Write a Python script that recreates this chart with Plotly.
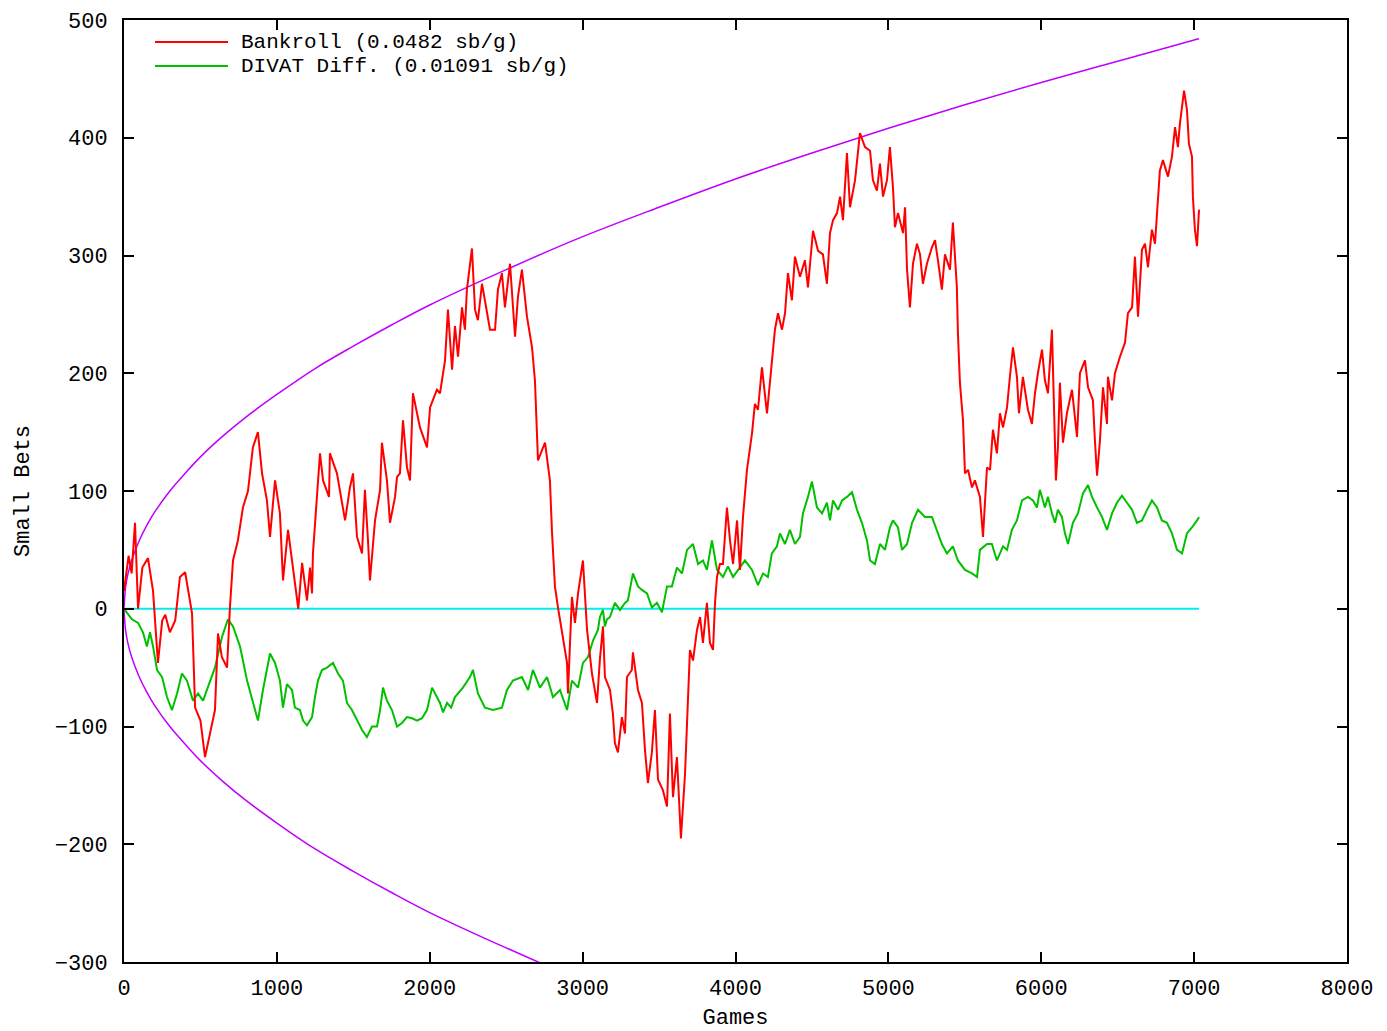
import plotly.graph_objects as go

# ---------------- data ----------------
bankroll_games = [0, 30, 50, 72, 92, 120, 157, 190, 222, 250, 270, 300, 335, 366, 400, 445, 465, 500, 530, 575,
    595, 615, 640, 674, 693, 713, 745, 778, 811, 843, 876, 903, 935, 955, 988, 1020, 1040, 1073, 1105, 1140,
    1165, 1197, 1217, 1230, 1236, 1262, 1282, 1302, 1341, 1347, 1393, 1446, 1478, 1498, 1524, 1557, 1576, 1596, 1609, 1642,
    1675, 1687, 1720, 1740, 1773, 1786, 1805, 1825, 1851, 1871, 1890, 1936, 1982, 2002, 2047, 2067, 2100, 2119, 2146, 2165,
    2185, 2211, 2230, 2243, 2276, 2296, 2315, 2342, 2374, 2394, 2427, 2446, 2472, 2492, 2525, 2558, 2577, 2603, 2636, 2669,
    2688, 2701, 2708, 2754, 2773, 2786, 2800, 2819, 2839, 2872, 2898, 2904, 2930, 2950, 2970, 3002, 3029, 3061, 3094, 3113,
    3133, 3146, 3179, 3198, 3211, 3231, 3257, 3277, 3290, 3322, 3329, 3362, 3388, 3408, 3427, 3453, 3473, 3493, 3525, 3552,
    3571, 3591, 3617, 3643, 3670, 3683, 3702, 3722, 3748, 3768, 3787, 3813, 3833, 3853, 3866, 3879, 3898, 3918, 3944, 3964,
    3984, 4010, 4029, 4049, 4075, 4108, 4127, 4147, 4173, 4206, 4238, 4258, 4278, 4304, 4324, 4343, 4369, 4389, 4422, 4454,
    4474, 4500, 4507, 4540, 4572, 4598, 4618, 4638, 4664, 4684, 4703, 4729, 4749, 4782, 4801, 4814, 4847, 4880, 4899, 4925,
    4945, 4965, 4991, 5010, 5030, 5043, 5063, 5096, 5109, 5122, 5141, 5161, 5187, 5207, 5226, 5252, 5285, 5305, 5324, 5350,
    5370, 5403, 5422, 5448, 5455, 5468, 5488, 5501, 5521, 5547, 5566, 5599, 5619, 5645, 5665, 5684, 5710, 5730, 5750, 5776,
    5795, 5815, 5841, 5854, 5880, 5913, 5939, 5959, 5978, 6005, 6024, 6044, 6070, 6083, 6096, 6109, 6122, 6142, 6168, 6201,
    6234, 6253, 6286, 6306, 6338, 6351, 6365, 6384, 6404, 6430, 6436, 6463, 6482, 6515, 6548, 6567, 6594, 6613, 6633, 6659,
    6679, 6698, 6724, 6744, 6763, 6776, 6796, 6829, 6855, 6875, 6894, 6907, 6934, 6953, 6966, 6986, 6992, 7005, 7019, 7032]
bankroll = [15, 45, 30, 73, 0, 35, 43, 15, -46, -10, -5, -20, -10, 27, 31, -4, -84, -95, -126, -100,
    -86, -21, -41, -50, 1, 41, 58, 86, 100, 137, 150, 115, 92, 61, 109, 81, 24, 67, 36, 0,
    39, 7, 35, 13, 47, 98, 132, 109, 95, 132, 115, 75, 103, 115, 61, 47, 101, 58, 24, 75,
    101, 141, 109, 73, 95, 112, 115, 160, 120, 109, 183, 154, 137, 171, 186, 183, 211, 254, 203, 240,
    214, 256, 237, 271, 306, 254, 245, 276, 254, 237, 237, 271, 285, 256, 293, 231, 265, 288, 248, 222,
    194, 154, 126, 141, 124, 109, 64, 19, 1, -24, -46, -72, 10, -12, 13, 41, -18, -55, -80, -43,
    -15, -58, -69, -89, -114, -122, -92, -106, -58, -52, -37, -69, -80, -120, -148, -122, -86, -145, -154, -168,
    -89, -160, -126, -195, -140, -97, -35, -44, -18, -7, -29, 5, -29, -35, 5, 27, 38, 38, 86, 58,
    38, 75, 33, 78, 118, 149, 174, 169, 205, 166, 214, 237, 251, 237, 251, 285, 262, 299, 282, 296,
    273, 307, 321, 304, 301, 276, 319, 330, 336, 350, 330, 387, 341, 364, 387, 404, 392, 389, 364, 355,
    378, 350, 364, 392, 358, 324, 336, 319, 341, 288, 256, 293, 310, 301, 276, 293, 307, 313, 296, 271,
    301, 288, 328, 273, 234, 192, 160, 115, 118, 103, 109, 95, 61, 120, 118, 152, 132, 166, 154, 171,
    197, 222, 197, 166, 197, 169, 157, 183, 200, 220, 194, 183, 237, 174, 109, 137, 192, 141, 166, 186,
    146, 200, 211, 188, 177, 143, 113, 143, 188, 157, 197, 177, 200, 214, 226, 251, 256, 299, 248, 305,
    310, 290, 322, 310, 344, 372, 381, 367, 384, 409, 392, 412, 440, 424, 395, 384, 350, 322, 308, 339]

divat_games = [0, 52, 92, 124, 150, 170, 190, 216, 249, 281, 314, 347, 379, 412, 451, 484, 517, 563, 595, 641,
    680, 713, 759, 805, 843, 876, 909, 955, 988, 1020, 1040, 1066, 1099, 1118, 1151, 1171, 1197, 1230, 1249, 1269,
    1295, 1328, 1367, 1400, 1432, 1459, 1491, 1524, 1557, 1589, 1622, 1655, 1675, 1694, 1720, 1753, 1786, 1818, 1851, 1884,
    1917, 1949, 1982, 2015, 2047, 2067, 2087, 2113, 2140, 2165, 2217, 2263, 2283, 2315, 2361, 2414, 2472, 2505, 2544, 2603,
    2643, 2675, 2721, 2767, 2806, 2852, 2898, 2930, 2970, 3002, 3035, 3068, 3100, 3113, 3133, 3146, 3159, 3179, 3211, 3244,
    3277, 3296, 3329, 3362, 3388, 3421, 3453, 3486, 3519, 3552, 3584, 3617, 3650, 3683, 3722, 3755, 3787, 3813, 3846, 3879,
    3918, 3951, 3984, 4016, 4062, 4108, 4147, 4180, 4212, 4238, 4271, 4291, 4324, 4356, 4389, 4422, 4441, 4474, 4500, 4533,
    4566, 4598, 4618, 4638, 4671, 4697, 4729, 4762, 4795, 4827, 4860, 4880, 4912, 4945, 4978, 5010, 5030, 5063, 5089, 5122,
    5155, 5194, 5239, 5285, 5318, 5350, 5383, 5422, 5455, 5501, 5547, 5580, 5599, 5645, 5677, 5710, 5750, 5776, 5808, 5841,
    5874, 5913, 5946, 5972, 5991, 6024, 6044, 6070, 6090, 6109, 6135, 6155, 6175, 6207, 6240, 6273, 6306, 6332, 6365, 6397,
    6430, 6463, 6495, 6528, 6561, 6594, 6626, 6659, 6692, 6724, 6757, 6789, 6822, 6855, 6888, 6921, 6953, 6986, 7019, 7032]
divat = [0, -9, -12, -20, -32, -20, -32, -52, -58, -75, -86, -72, -55, -61, -78, -72, -78, -61, -50, -24,
    -9, -15, -32, -61, -78, -95, -69, -38, -46, -61, -84, -64, -69, -84, -86, -95, -99, -92, -75, -61,
    -52, -50, -46, -55, -61, -80, -86, -95, -103, -109, -100, -100, -86, -67, -78, -86, -100, -97, -92, -93,
    -95, -93, -86, -67, -75, -80, -88, -80, -84, -75, -67, -58, -52, -72, -84, -86, -84, -69, -61, -58,
    -69, -52, -67, -58, -75, -69, -86, -61, -67, -46, -41, -27, -18, -7, -1, -15, -9, -7, 5, -1,
    5, 7, 30, 19, 16, 13, 1, 5, -3, 19, 19, 35, 30, 50, 55, 38, 41, 33, 58, 33,
    27, 36, 27, 33, 41, 33, 20, 30, 27, 47, 53, 64, 55, 67, 55, 61, 81, 95, 108, 86,
    81, 90, 75, 92, 84, 92, 95, 99, 84, 73, 58, 41, 38, 55, 50, 69, 75, 69, 50, 55,
    73, 84, 78, 78, 67, 55, 47, 53, 41, 33, 30, 27, 50, 55, 55, 41, 53, 50, 67, 75,
    92, 95, 92, 86, 101, 86, 95, 81, 73, 84, 78, 64, 55, 73, 81, 98, 105, 95, 86, 78,
    67, 81, 90, 96, 90, 84, 73, 75, 84, 92, 86, 75, 73, 64, 50, 47, 64, 69, 75, 78]

bound_games = [0, 10, 25, 50, 100, 150, 200, 300, 400, 500, 650, 800, 1000, 1250, 1500, 1750, 2000, 2500, 3000,
    3500, 4000, 4500, 5000, 5500, 6000, 6500, 7000, 7032]
bound_upper = [0, 18, 29, 41, 58, 71, 82, 100, 115, 129, 147, 163, 182, 204, 223, 241, 258, 288, 316,
    341, 365, 387, 408, 428, 447, 465, 483, 484]
bound_lower = [-v for v in bound_upper]

zero_games = [0, 7032]
zero_line = [0, 0]

x_ticks = [0, 1000, 2000, 3000, 4000, 5000, 6000, 7000, 8000]
y_ticks = [-300, -200, -100, 0, 100, 200, 300, 400, 500]

legend_labels = ["Bankroll (0.0482 sb/g)", "DIVAT Diff. (0.01091 sb/g)"]

# ---------------- styles ----------------
RED = "#ff0000"
GREEN = "#00c000"
PURPLE = "#c000ff"
CYAN = "#00eeee"
FONT = "Liberation Mono"
FSIZE = 22
LEG_FSIZE = 21

fig = go.Figure()
fig.add_trace(go.Scatter(x=bound_games, y=bound_upper, mode="lines",
                         line=dict(color=PURPLE, width=1.5, shape="spline"), showlegend=False))
fig.add_trace(go.Scatter(x=bound_games, y=bound_lower, mode="lines",
                         line=dict(color=PURPLE, width=1.5, shape="spline"), showlegend=False))
fig.add_trace(go.Scatter(x=zero_games, y=zero_line, mode="lines",
                         line=dict(color=CYAN, width=2), showlegend=False))
fig.add_trace(go.Scatter(x=divat_games, y=divat, mode="lines", name=legend_labels[1],
                         line=dict(color=GREEN, width=2), showlegend=False))
fig.add_trace(go.Scatter(x=bankroll_games, y=bankroll, mode="lines", name=legend_labels[0],
                         line=dict(color=RED, width=2), showlegend=False))

# manual gnuplot-style legend (top-left, inside the plot)
L, R, T, B = 124, 1347, 20, 962
def px_to_paper(px, py):
    return (px - L) / (R - L), 1 - (py - T) / (B - T)

for i, (label, col) in enumerate(zip(legend_labels, [RED, GREEN])):
    y_px = 42 + 24 * i
    x0, yy = px_to_paper(155, y_px)
    x1, _ = px_to_paper(228, y_px)
    xt, _ = px_to_paper(241, y_px)
    fig.add_shape(type="line", xref="paper", yref="paper", x0=x0, x1=x1, y0=yy, y1=yy,
                  line=dict(color=col, width=2))
    fig.add_annotation(xref="paper", yref="paper", x=xt, y=yy, text=label, showarrow=False,
                       xanchor="left", yanchor="middle", xshift=-2,
                       font=dict(family=FONT, size=LEG_FSIZE, color="black"))

axis_common = dict(showline=True, linecolor="black", linewidth=2, mirror="ticks",
                   ticks="inside", ticklen=10, tickwidth=1.5, tickcolor="black",
                   showgrid=False, zeroline=False,
                   tickfont=dict(family=FONT, size=FSIZE, color="black"))

fig.update_layout(
    width=1387, height=1031,
    margin=dict(l=L, r=1387 - R, t=T, b=1031 - B, autoexpand=False),
    paper_bgcolor="white", plot_bgcolor="white",
    xaxis=dict(range=[0, 8000], tickvals=x_ticks, ticklabelstandoff=5,
               title=dict(text="Games", standoff=20, font=dict(family=FONT, size=FSIZE, color="black")),
               **axis_common),
    yaxis=dict(range=[-300, 500], tickvals=y_ticks, ticklabelstandoff=10,
               title=dict(text="Small Bets", standoff=19, font=dict(family=FONT, size=FSIZE, color="black")),
               **axis_common),
    showlegend=False,
)

fig.write_html("out.html", config={"displayModeBar": False},
               post_script="document.body.style.margin='0';document.body.style.overflow='hidden';")
